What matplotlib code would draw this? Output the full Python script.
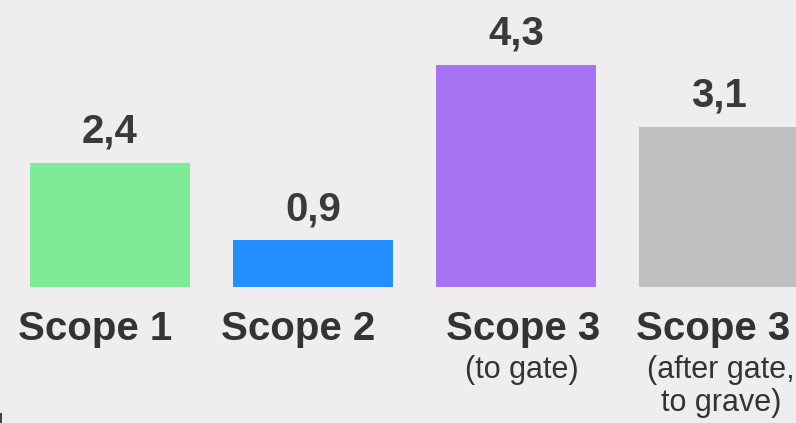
import matplotlib
matplotlib.use("Agg")
import matplotlib.pyplot as plt
from matplotlib.patches import Rectangle

# dane
scopes = ["Scope 1", "Scope 2", "Scope 3", "Scope 3"]
notes = ["", "", "(to gate)", "(after gate,\nto grave)"]
values = [2.4, 0.9, 4.3, 3.1]
value_labels = ["2,4", "0,9", "4,3", "3,1"]
colors = ["#7deb97", "#2490ff", "#a673f5", "#c0c0c0"]

bg = "#efedee"
txt = "#3a3a3a"
plt.rcParams["font.family"] = ["Liberation Sans", "DejaVu Sans"]

fig = plt.figure(figsize=(7.96, 4.23), dpi=100, facecolor=bg)
ax = fig.add_axes([0, 0, 1, 1])
ax.set_facecolor(bg)

x = list(range(len(values)))
ax.bar(x, values, width=0.788, color=colors, edgecolor="none")

ax.set_xlim(-0.5419, 3.3793)
ax.set_ylim(-2.63, 5.551)
ax.axis("off")

# wartości nad słupkami
for i, (v, lab) in enumerate(zip(values, value_labels)):
    ax.annotate(lab, xy=(i, v), xytext=(0, 20), textcoords="offset pixels",
                ha="center", va="baseline", fontsize=29, fontweight="bold",
                color=txt)

# podpisy kategorii (lekko przesunięte jak w oryginale)
label_dx = [-15, -15, 7, -6]
note_dx = [0, 0, 6, 2]
for i, (s, n) in enumerate(zip(scopes, notes)):
    ax.annotate(s, xy=(i, 0), xytext=(label_dx[i], -53), textcoords="offset pixels",
                ha="center", va="baseline", fontsize=29, fontweight="bold",
                color="#333333")
    if n:
        lines = n.split("\n")
        for k, line in enumerate(lines):
            ax.annotate(line, xy=(i, 0), xytext=(note_dx[i], -91 - 33 * k),
                        textcoords="offset pixels", ha="center", va="baseline",
                        fontsize=22, color="#333333")

# drobny znak w lewym dolnym rogu
fig.patches.append(Rectangle((0, 0), 2 / 796, 10 / 423, transform=fig.transFigure,
                             facecolor="#444444", edgecolor="none"))

fig.savefig("out.png", dpi=100, facecolor=bg)
